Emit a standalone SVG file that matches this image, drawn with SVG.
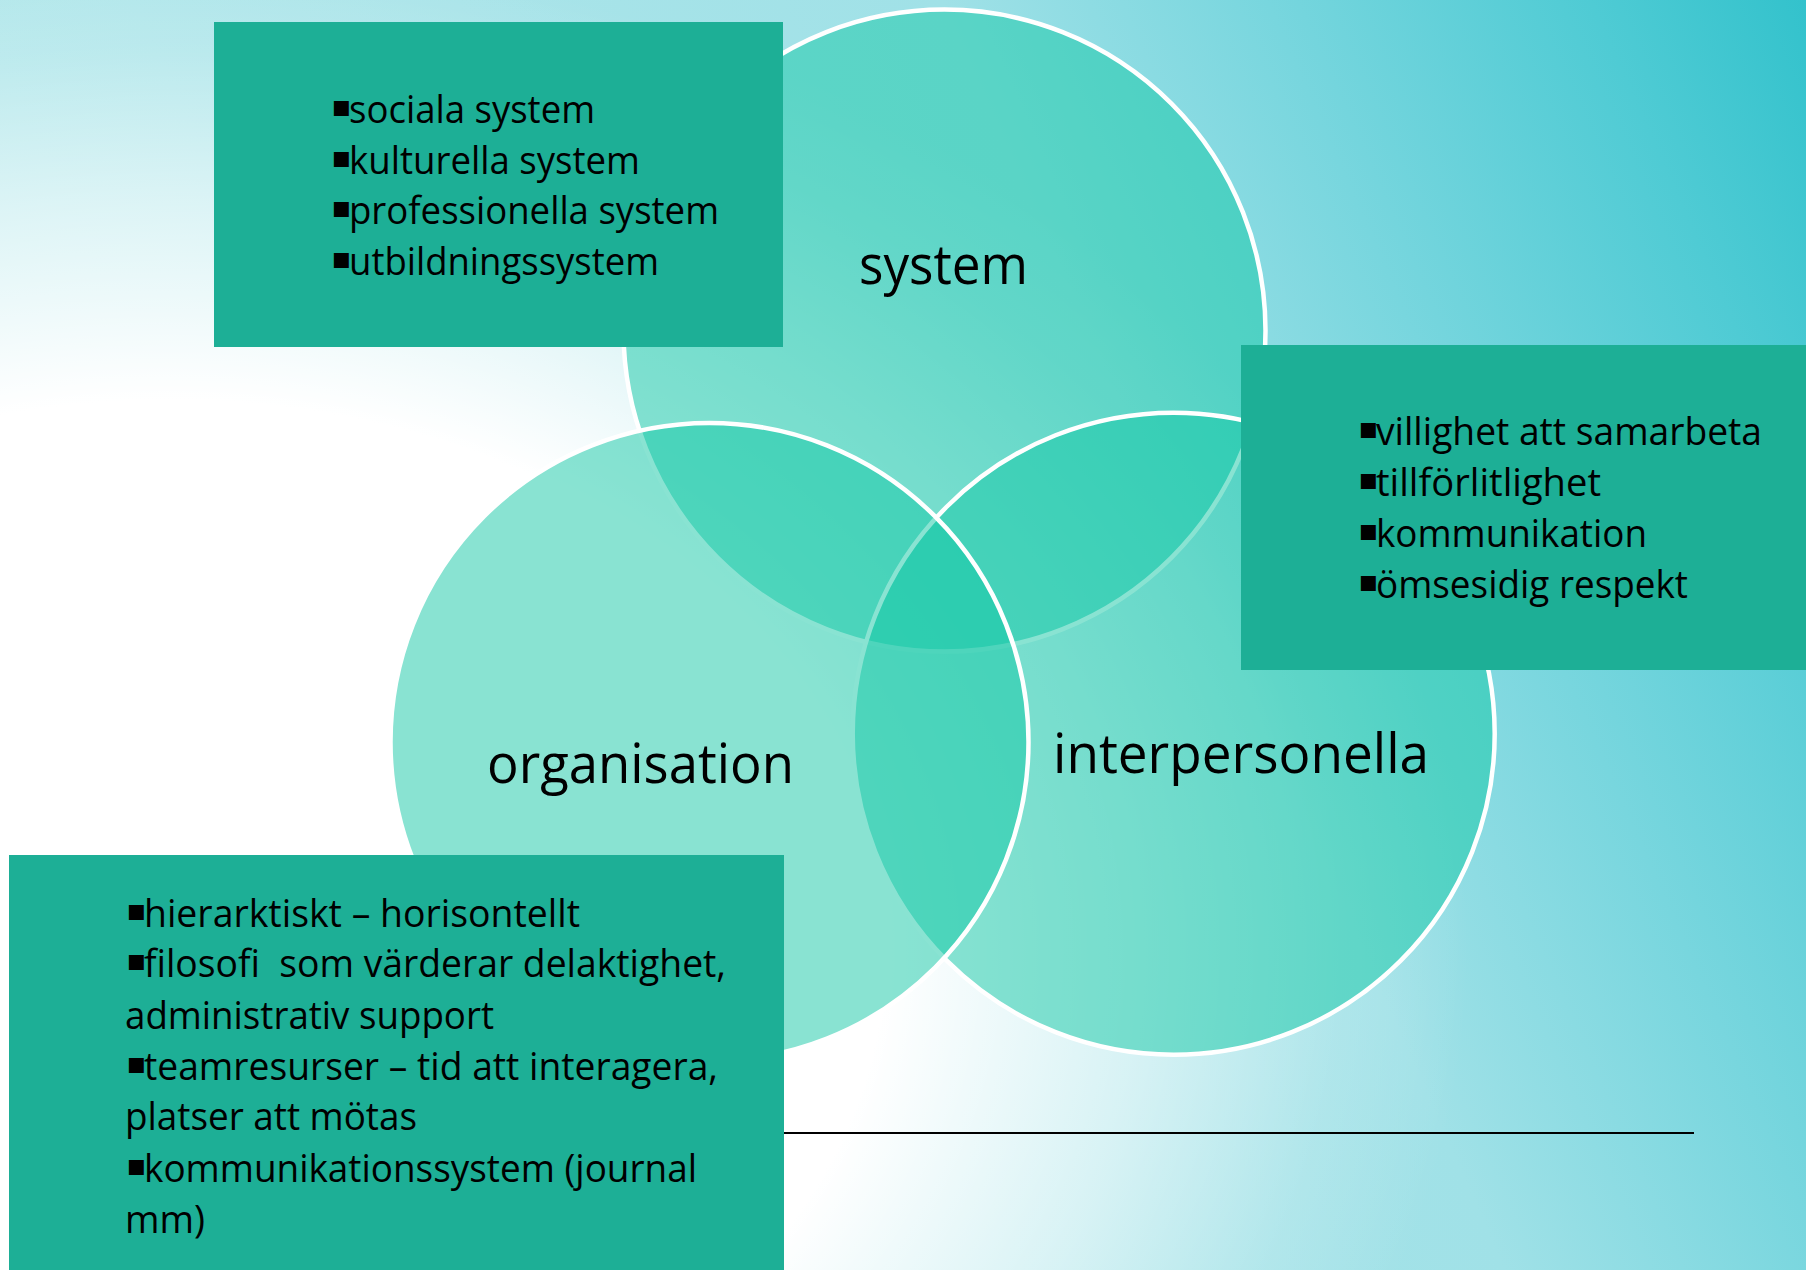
<svg xmlns="http://www.w3.org/2000/svg" width="1806" height="1270" viewBox="0 0 1806 1270">
<defs>
<linearGradient id="bgLin" gradientUnits="userSpaceOnUse" x1="0" y1="800" x2="1806" y2="0">
<stop offset="0" stop-color="#b8e9ec"/>
<stop offset="0.6" stop-color="#a0e1e7"/>
<stop offset="0.75" stop-color="#78d6de"/>
<stop offset="0.9" stop-color="#4fcbd4"/>
<stop offset="1" stop-color="#33c2cc"/>
</linearGradient>
<radialGradient id="glow" gradientUnits="userSpaceOnUse" cx="170" cy="950" r="1000" gradientTransform="translate(170 950) scale(1.3 1) translate(-170 -950)">
<stop offset="0" stop-color="#ffffff" stop-opacity="1"/>
<stop offset="0.55" stop-color="#ffffff" stop-opacity="1"/>
<stop offset="0.75" stop-color="#ffffff" stop-opacity="0.55"/>
<stop offset="0.9" stop-color="#ffffff" stop-opacity="0.15"/>
<stop offset="1" stop-color="#ffffff" stop-opacity="0"/>
</radialGradient>
</defs>
<style>
.box{fill:#1daf96}
.circ{fill:#14c8a5;fill-opacity:.5;stroke:#ffffff;stroke-width:4.5}
.t{font-family:'Open Sans','Noto Sans','Liberation Sans',sans-serif;font-size:38px;fill:#000000;white-space:pre}
.lbl{font-size:54px}
.b{font-family:'DejaVu Sans',sans-serif;font-size:30px;fill:#000000}
</style>
<rect x="0" y="0" width="1806" height="1270" fill="url(#bgLin)"/>
<rect x="0" y="0" width="1806" height="1270" fill="url(#glow)"/>

<g id="circle-system">
<circle class="circ" cx="944.5" cy="330.6" r="321"/>
</g>
<g id="circle-interpersonella">
<circle class="circ" cx="1173.7" cy="733.7" r="321"/>
</g>
<g id="circle-organisation">
<circle class="circ" cx="709.5" cy="742" r="319"/>
</g>

<g id="connectors">
<line x1="700" y1="1133" x2="1694" y2="1133" stroke="#000000" stroke-width="2.2"/>
</g>

<g id="label-system">
<text class="t lbl" x="859" y="284" textLength="169" lengthAdjust="spacingAndGlyphs">system</text>
</g>
<g id="label-organisation">
<text class="t lbl" x="487" y="782.7" textLength="307" lengthAdjust="spacingAndGlyphs">organisation</text>
</g>
<g id="label-interpersonella">
<text class="t lbl" x="1053" y="772.7" textLength="376" lengthAdjust="spacingAndGlyphs">interpersonella</text>
</g>

<g id="box-system">
<rect class="box" x="214" y="22" width="569" height="325"/>
<text class="b" x="331" y="115.7">▪</text>
<text class="b" x="331" y="166.5">▪</text>
<text class="b" x="331" y="217">▪</text>
<text class="b" x="331" y="268">▪</text>
<text class="t" x="349" y="122.7" textLength="246" lengthAdjust="spacingAndGlyphs">sociala system</text>
<text class="t" x="349" y="173.5" textLength="291" lengthAdjust="spacingAndGlyphs">kulturella system</text>
<text class="t" x="349" y="224" textLength="370" lengthAdjust="spacingAndGlyphs">professionella system</text>
<text class="t" x="349" y="275" textLength="310" lengthAdjust="spacingAndGlyphs">utbildningssystem</text>
</g>

<g id="box-interpersonella">
<rect class="box" x="1241" y="345" width="565" height="325"/>
<text class="b" x="1358" y="438">▪</text>
<text class="b" x="1358" y="488.7">▪</text>
<text class="b" x="1358" y="539.7">▪</text>
<text class="b" x="1358" y="590.7">▪</text>
<text class="t" x="1376" y="445" textLength="386" lengthAdjust="spacingAndGlyphs">villighet att samarbeta</text>
<text class="t" x="1376" y="495.7" textLength="225" lengthAdjust="spacingAndGlyphs">tillförlitlighet</text>
<text class="t" x="1376" y="546.7" textLength="271" lengthAdjust="spacingAndGlyphs">kommunikation</text>
<text class="t" x="1376" y="597.7" textLength="312" lengthAdjust="spacingAndGlyphs">ömsesidig respekt</text>
</g>

<g id="box-organisation">
<rect class="box" x="9" y="855" width="775" height="415"/>
<text class="b" x="126" y="919.7">▪</text>
<text class="b" x="126" y="970">▪</text>
<text class="b" x="126" y="1073">▪</text>
<text class="b" x="126" y="1174.7">▪</text>
<text class="t" x="144" y="926.7" textLength="436" lengthAdjust="spacingAndGlyphs">hierarktiskt – horisontellt</text>
<text class="t" x="144" y="977" textLength="582" lengthAdjust="spacingAndGlyphs">filosofi  som värderar delaktighet,</text>
<text class="t" x="125" y="1029" textLength="369" lengthAdjust="spacingAndGlyphs">administrativ support</text>
<text class="t" x="144" y="1080" textLength="574" lengthAdjust="spacingAndGlyphs">teamresurser – tid att interagera,</text>
<text class="t" x="125" y="1130" textLength="292" lengthAdjust="spacingAndGlyphs">platser att mötas</text>
<text class="t" x="144" y="1181.7" textLength="553" lengthAdjust="spacingAndGlyphs">kommunikationssystem (journal</text>
<text class="t" x="125" y="1233" textLength="80" lengthAdjust="spacingAndGlyphs">mm)</text>
</g>
</svg>
